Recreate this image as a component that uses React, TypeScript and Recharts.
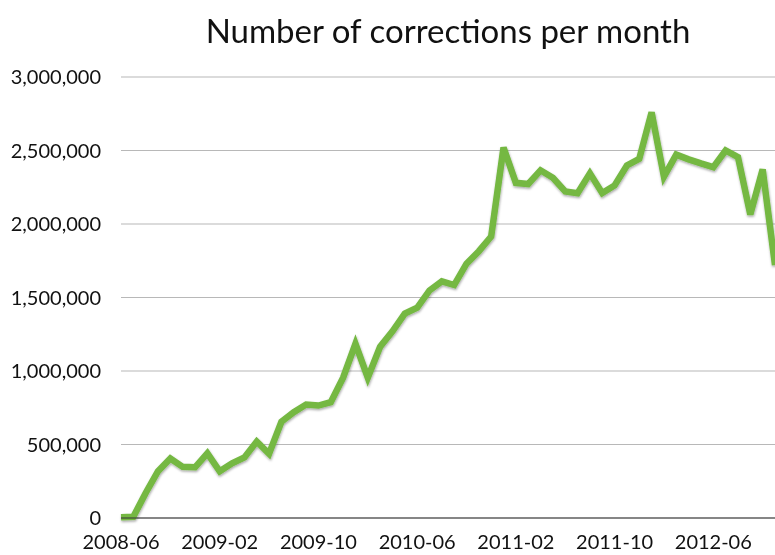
import React from "react";
import { LineChart, Line, XAxis, YAxis, CartesianGrid } from "recharts";

const months = [
  "2008-06","2008-07","2008-08","2008-09","2008-10","2008-11","2008-12",
  "2009-01","2009-02","2009-03","2009-04","2009-05","2009-06","2009-07","2009-08","2009-09","2009-10","2009-11","2009-12",
  "2010-01","2010-02","2010-03","2010-04","2010-05","2010-06","2010-07","2010-08","2010-09","2010-10","2010-11","2010-12",
  "2011-01","2011-02","2011-03","2011-04","2011-05","2011-06","2011-07","2011-08","2011-09","2011-10","2011-11","2011-12",
  "2012-01","2012-02","2012-03","2012-04","2012-05","2012-06","2012-07","2012-08","2012-09","2012-10","2012-11",
];

const corrections = [
  5000, 8000, 170000, 318000, 405000, 348000, 345000,
  440000, 318000, 372000, 412000, 520000, 437000, 655000, 720000, 772000, 765000, 788000, 955000,
  1185000, 955000, 1165000, 1270000, 1390000, 1430000, 1548000, 1610000, 1585000, 1730000, 1815000, 1915000,
  2520000, 2280000, 2272000, 2365000, 2314000, 2222000, 2210000, 2345000, 2210000, 2262000, 2398000, 2444000,
  2760000, 2322000, 2472000, 2440000, 2412000, 2387000, 2500000, 2455000, 2065000, 2371000, 1720000,
];

const yTicks = [0, 500000, 1000000, 1500000, 2000000, 2500000, 3000000];

const title = "Number of corrections per month";

const data = months.map((m, i) => ({ month: m, value: corrections[i] }));

const FONT = "Lato, 'Open Sans', sans-serif";

export default function App() {
  return (
    <div style={{ position: "fixed", left: 8, top: 8, width: 767, height: 547, overflow: "hidden" }}>
      <div
        style={{
          position: "absolute",
          left: 113,
          width: 654,
          top: 0,
          textAlign: "center",
          fontFamily: FONT,
          fontSize: 33,
          lineHeight: "44px",
          color: "#111",
        }}
      >
        {title}
      </div>
      <LineChart
        width={767}
        height={547}
        data={data}
        margin={{ top: 69, right: 0, bottom: 0, left: 0 }}
        style={{ overflow: "visible" }}
      >
        <defs>
          <filter id="lineShadow" filterUnits="userSpaceOnUse" x="0" y="0" width="800" height="560">
            <feDropShadow dx="0.5" dy="1.5" stdDeviation="1.2" floodColor="#000" floodOpacity="0.35" />
          </filter>
        </defs>
        <CartesianGrid vertical={false} stroke="#b8b8b8" strokeWidth={1.2} />
        <XAxis
          dataKey="month"
          interval={7}
          height={37}
          tickLine={false}
          axisLine={{ stroke: "#333", strokeWidth: 1.2 }}
          tick={{ fill: "#111", fontSize: 20, fontFamily: FONT }}
          tickMargin={11}
          padding={{ left: 0, right: 0 }}
        />
        <YAxis
          width={113}
          domain={[0, 3000000]}
          ticks={yTicks}
          axisLine={false}
          tickLine={false}
          tickSize={0}
          tickMargin={20}
          tick={{ fill: "#111", fontSize: 20, fontFamily: FONT }}
          tickFormatter={(v: number) => v.toLocaleString("en-US")}
        />
        <Line
          type="linear"
          dataKey="value"
          stroke="#74b843"
          strokeWidth={6.5}
          strokeLinejoin="miter"
          dot={false}
          activeDot={false}
          isAnimationActive={false}
          style={{ filter: "url(#lineShadow)" }}
        />
      </LineChart>
    </div>
  );
}
